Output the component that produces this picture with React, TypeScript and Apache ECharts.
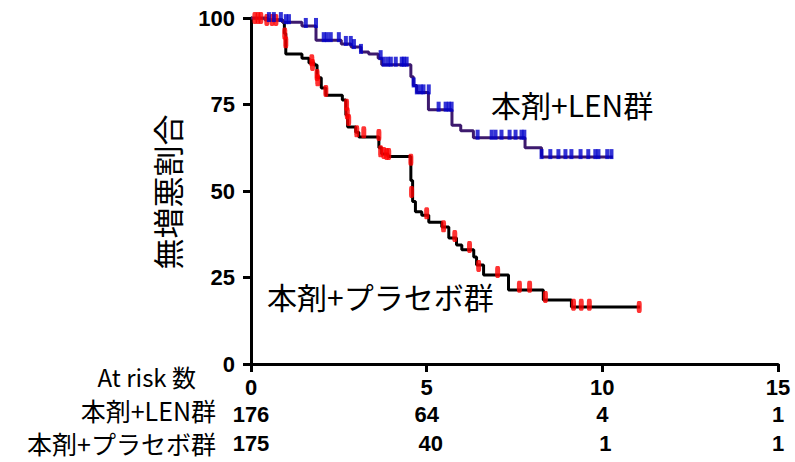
import React, { useEffect, useRef } from "react";
import * as echarts from "echarts";

// Kaplan-Meier steps (time in months, survival %)
const lenTimes = [0, 0.4, 0.9, 1.45, 1.85, 2.57, 2.85, 3.13, 3.35, 3.62, 3.72, 4.55, 4.62, 4.72, 5.05, 5.72, 5.97, 6.33, 7.8, 8.27, 10.3];
const lenSurv = [100, 99.4, 98.8, 97.7, 93.6, 92.5, 91.6, 90.2, 89.6, 88.4, 86.5, 83, 80.5, 78.5, 73.5, 69, 67.4, 65.4, 62.5, 59.8, 59.8];

const plaTimes = [0, 0.45, 0.9, 0.95, 0.99, 1.45, 1.65, 1.8, 1.88, 2.0, 2.13, 2.6, 2.7, 2.75, 2.98, 3.07, 3.64, 3.72, 3.9, 4.55, 4.6, 4.68, 4.86, 5.06, 5.43, 5.63, 5.85, 6.0, 6.34, 6.42, 6.62, 7.33, 8.32, 9.12, 11.08];
const plaSurv = [100, 99.4, 98.8, 95.5, 89.6, 88.4, 87, 86.4, 82.7, 79.8, 77.7, 76.3, 72, 68.5, 67, 65.6, 62.5, 60.7, 60, 53, 47, 44, 43, 41, 39.6, 36.4, 34.4, 33, 30.9, 28.6, 25.7, 21.4, 18.5, 16.5, 16.5];

// censored observations
const lenCensT = [0.51, 0.65, 0.85, 0.99, 1.08, 1.56, 1.85, 2.07, 2.16, 2.27, 2.5, 2.7, 2.84, 2.93, 3.13, 3.69, 3.78, 3.89, 3.98, 4.12, 4.29, 4.35, 4.43, 4.63, 4.72, 4.83, 4.91, 5.06, 5.34, 5.54, 5.63, 5.71, 6.45, 6.85, 6.96, 7.13, 7.36, 7.53, 7.7, 7.78, 8.27, 8.52, 8.75, 8.95, 9.12, 9.38, 9.6, 9.8, 9.89, 10.14, 10.26];
const lenCensS = [99.4, 99.4, 99.4, 98.8, 98.8, 97.7, 97.7, 93.6, 93.6, 93.6, 93.6, 92.5, 92.5, 91.6, 90.2, 88.4, 86.5, 86.5, 86.5, 86.5, 86.5, 86.5, 86.5, 80.5, 78.5, 78.5, 78.5, 78.5, 73.5, 73.5, 73.5, 73.5, 65.4, 65.4, 65.4, 65.4, 65.4, 65.4, 65.4, 65.4, 59.8, 59.8, 59.8, 59.8, 59.8, 59.8, 59.8, 59.8, 59.8, 59.8, 59.8];

const plaCensT = [0.11, 0.2, 0.28, 0.45, 0.6, 0.71, 0.96, 0.99, 1.73, 1.75, 1.88, 1.9, 2.13, 2.72, 2.74, 2.78, 3.01, 3.21, 3.64, 3.69, 3.78, 3.86, 3.92, 4.55, 4.57, 5.0, 5.48, 5.8, 6.22, 6.48, 7.02, 7.64, 7.93, 8.38, 9.18, 9.4, 9.63, 11.05];
const plaCensS = [100, 100, 100, 99.4, 99.4, 99.4, 95.5, 93, 87.8, 86.4, 83.5, 82, 78.9, 74.9, 72.5, 70.5, 67.3, 67, 66.2, 61.5, 61, 60.7, 60.7, 59, 49.7, 43.6, 39.8, 37, 33.8, 28.3, 26.6, 22.3, 22.3, 19.4, 17.1, 17.1, 17.1, 16.5];

// at-risk table
const riskTimes = [0, 5, 10, 15];
const riskLen = [176, 64, 4, 1];
const riskPla = [175, 40, 1, 1];

const xTicks = { min: 0, max: 15, interval: 5 };
const yTicks = { min: 0, max: 100, interval: 25 };

const NUM_FONT = "'Liberation Sans', Arial, sans-serif";
const JP_FONT = "'Noto Sans CJK JP', 'Noto Sans', sans-serif";

export default function App() {
  const ref = useRef<HTMLDivElement>(null);
  useEffect(() => {
    if (!ref.current) return;
    const chart = echarts.init(ref.current, null, { renderer: "svg" });
    const axisCommon = {
      type: "value" as const,
      axisLine: { show: true, onZero: false, lineStyle: { color: "#000", width: 3 } },
      axisTick: { show: true, length: 8, lineStyle: { color: "#000", width: 3 } },
      splitLine: { show: false },
      axisLabel: { color: "#000", fontWeight: "bold", fontSize: 22, lineHeight: 17, fontFamily: NUM_FONT, margin: 16 },
    };
    const option: any = {
      animation: false,
      grid: { left: 251, right: 17, top: 18, bottom: 98 },
      xAxis: { ...axisCommon, ...xTicks, axisLabel: { ...axisCommon.axisLabel, margin: 15 } },
      yAxis: { ...axisCommon, ...yTicks },
      series: [
        {
          type: "line",
          step: "end",
          data: plaTimes.map((t, i) => [t, plaSurv[i]]),
          showSymbol: false,
          symbol: "none",
          lineStyle: { color: "#000", width: 3 },
          z: 2,
        },
        {
          type: "line",
          step: "end",
          data: lenTimes.map((t, i) => [t, lenSurv[i]]),
          showSymbol: false,
          symbol: "none",
          lineStyle: { color: "#3d1a6e", width: 3 },
          z: 3,
        },
        {
          type: "scatter",
          data: plaCensT.map((t, i) => [t, plaCensS[i]]),
          symbol: "roundRect",
          symbolSize: [5, 12],
          itemStyle: { color: "#ff0000" },
          z: 4,
        },
        {
          type: "scatter",
          data: lenCensT.map((t, i) => [t, lenCensS[i]]),
          symbol: "rect",
          symbolSize: [4, 10],
          symbolOffset: [0, -3],
          itemStyle: { color: "#0000cc" },
          z: 5,
        },
      ],
    };
    chart.setOption(option);

    const graphics: any[] = [
      {
        type: "text",
        x: 166,
        y: 192,
        rotation: Math.PI / 2,
        style: { text: "無増悪割合", font: `31px ${JP_FONT}`, fill: "#000", textAlign: "center", textVerticalAlign: "middle" },
      },
      {
        type: "text",
        x: 491,
        y: 104,
        style: { text: "本剤+LEN群", font: `30px ${JP_FONT}`, fill: "#000", textAlign: "left", textVerticalAlign: "middle" },
      },
      {
        type: "text",
        x: 267,
        y: 296,
        style: { text: "本剤+プラセボ群", font: `30px ${JP_FONT}`, fill: "#000", textAlign: "left", textVerticalAlign: "middle" },
      },
      {
        type: "text",
        x: 196,
        y: 376,
        style: { text: "At risk 数", font: `24px ${JP_FONT}`, lineHeight: 26, fill: "#000", textAlign: "right", textVerticalAlign: "middle" },
      },
      {
        type: "text",
        x: 216,
        y: 410,
        style: { text: "本剤+LEN群", font: `25px ${JP_FONT}`, lineHeight: 27, fill: "#000", textAlign: "right", textVerticalAlign: "middle" },
      },
      {
        type: "text",
        x: 216,
        y: 443,
        style: { text: "本剤+プラセボ群", font: `25px ${JP_FONT}`, lineHeight: 27, fill: "#000", textAlign: "right", textVerticalAlign: "middle" },
      },
    ];
    riskTimes.forEach((t, i) => {
      const px = chart.convertToPixel({ xAxisIndex: 0 }, t) as number;
      graphics.push({
        type: "text",
        x: px,
        y: 414,
        style: { text: String(riskLen[i]), font: `bold 22px ${NUM_FONT}`, lineHeight: 19, fill: "#000", textAlign: "center", textVerticalAlign: "middle" },
      });
      graphics.push({
        type: "text",
        x: px + (i === 1 ? 4 : i === 2 ? 3 : 0),
        y: 443,
        style: { text: String(riskPla[i]), font: `bold 22px ${NUM_FONT}`, lineHeight: 19, fill: "#000", textAlign: "center", textVerticalAlign: "middle" },
      });
    });
    chart.setOption({ graphic: graphics });

    return () => chart.dispose();
  }, []);
  return <div ref={ref} style={{ position: "absolute", left: 0, top: 0, width: 795, height: 462 }} />;
}
